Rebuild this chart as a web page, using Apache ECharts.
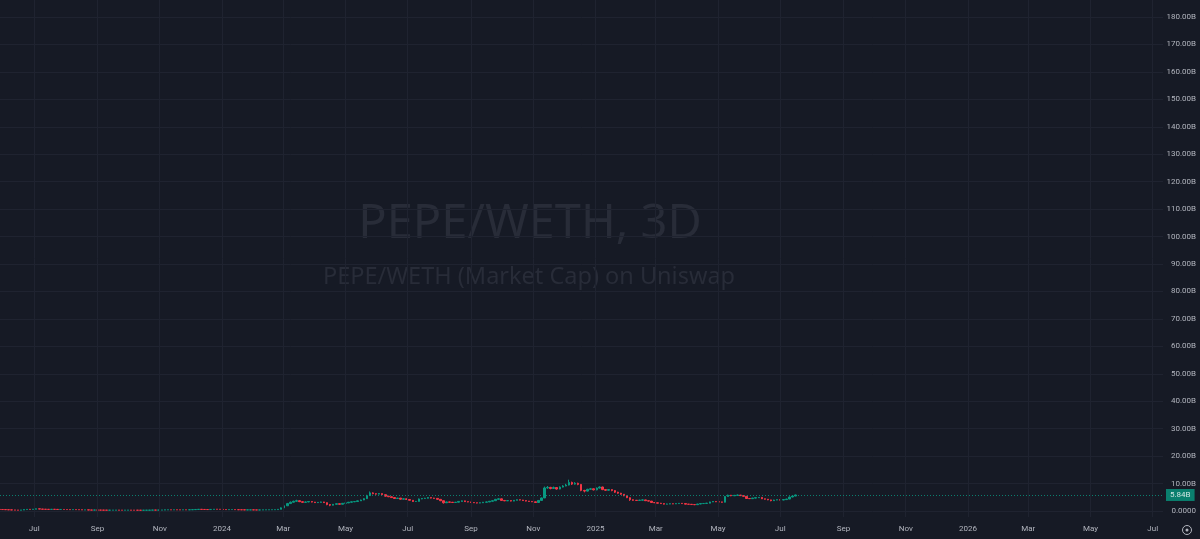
<!DOCTYPE html>
<html><head><meta charset="utf-8">
<script src="https://cdn.jsdelivr.net/npm/echarts@6/dist/echarts.min.js"></script>
<style>html,body{margin:0;padding:0;background:#161a25;}#c{width:1200px;height:539px;}</style>
</head><body><div id="c"></div>
<script>
// ---- data (market cap, billions) — 3-day candles ----
const firstDate = '2023-05-28';
const stepDays = 3;
const firstOpen = 0.58;
const closes = [
0.55,0.52,0.48,0.42,0.38,0.33,0.31,0.35,0.52,0.60,0.58,0.66,0.80,0.70,0.64,0.60,0.59,0.62,0.60,0.55,
0.57,0.54,0.52,0.50,0.52,0.50,0.47,0.40,0.41,0.36,0.34,0.36,0.33,0.32,0.31,0.29,0.30,0.31,0.32,0.30,
0.29,0.31,0.32,0.30,0.29,0.28,0.27,0.28,0.29,0.32,0.34,0.33,0.34,0.36,0.42,0.45,0.43,0.46,0.44,0.42,
0.45,0.44,0.46,0.50,0.56,0.62,0.57,0.55,0.52,0.58,0.64,0.62,0.60,0.55,0.50,0.52,0.53,0.48,0.46,0.44,
0.40,0.41,0.42,0.40,0.38,0.39,0.42,0.45,0.46,0.48,0.50,0.62,1.15,1.90,2.70,3.20,3.55,3.75,3.40,3.15,
3.30,3.45,3.25,3.05,3.15,3.30,3.05,2.35,2.10,2.45,2.65,2.45,2.80,2.95,3.20,3.35,3.45,3.70,4.00,4.50,
5.60,6.60,6.30,6.15,6.35,5.95,5.40,5.20,4.90,4.55,4.70,4.30,4.45,4.20,3.90,3.45,3.50,4.40,4.55,4.65,
4.90,4.70,4.60,4.25,3.75,3.00,3.30,3.20,3.10,3.20,3.50,3.70,3.40,3.30,3.10,3.00,2.90,3.00,3.20,3.30,
3.55,3.75,4.25,4.45,3.85,3.70,3.80,3.60,3.90,4.10,4.00,3.80,3.60,3.50,3.35,3.10,3.85,4.75,8.40,8.60,
8.20,8.55,8.00,8.70,9.10,9.45,10.40,9.80,10.10,9.70,7.50,7.25,7.90,8.10,7.70,8.35,8.75,7.80,7.55,7.80,
7.45,6.85,6.50,6.10,5.55,4.85,4.10,3.90,3.85,3.95,4.05,3.75,3.60,3.10,3.00,2.85,2.70,2.50,2.55,2.65,
2.60,2.70,2.80,2.70,2.50,2.45,2.35,2.30,2.55,2.70,2.75,2.85,3.30,3.45,3.35,3.30,3.20,5.30,5.75,5.55,
5.70,5.80,5.60,5.35,4.55,4.50,4.70,4.85,4.95,4.45,4.30,4.05,3.75,4.00,4.10,4.00,4.15,4.35,5.10,5.45,
5.84];
const highs = [
0.60,0.56,0.53,0.49,0.43,0.39,0.34,0.36,0.55,0.63,0.62,0.68,0.85,0.81,0.72,0.66,0.62,0.64,0.63,0.61,
0.58,0.58,0.55,0.53,0.53,0.53,0.51,0.48,0.42,0.42,0.37,0.37,0.37,0.34,0.33,0.32,0.31,0.32,0.33,0.33,
0.31,0.32,0.33,0.33,0.31,0.30,0.29,0.29,0.30,0.33,0.35,0.35,0.35,0.37,0.44,0.47,0.46,0.48,0.47,0.45,
0.46,0.46,0.47,0.52,0.58,0.65,0.63,0.58,0.56,0.60,0.66,0.66,0.63,0.61,0.56,0.54,0.55,0.54,0.49,0.47,
0.45,0.42,0.43,0.43,0.41,0.40,0.43,0.46,0.47,0.49,0.52,0.66,1.30,2.10,2.95,3.45,3.75,4.10,3.85,3.50,
3.45,3.60,3.50,3.30,3.25,3.40,3.35,3.10,2.45,2.55,2.75,2.70,2.90,3.05,3.30,3.45,3.55,3.80,4.15,4.65,
5.90,7.10,6.80,6.45,6.55,6.40,6.00,5.50,5.30,5.00,4.80,4.75,4.55,4.50,4.25,3.95,3.65,4.55,4.70,4.80,
5.05,4.95,4.80,4.65,4.30,3.80,3.40,3.40,3.25,3.30,3.60,3.80,3.75,3.45,3.35,3.15,3.05,3.10,3.30,3.40,
3.65,3.85,4.40,4.60,4.50,3.90,3.90,3.85,4.00,4.20,4.15,4.05,3.85,3.65,3.55,3.40,3.95,4.90,8.90,9.10,
8.80,8.90,8.70,8.95,9.40,9.90,11.40,10.70,10.50,10.30,9.80,7.70,8.10,8.40,8.20,8.50,9.00,8.85,7.95,8.00,
7.90,7.55,7.00,6.60,6.15,5.60,4.90,4.20,4.00,4.10,4.25,4.10,3.80,3.65,3.20,3.10,2.95,2.75,2.65,2.75,
2.70,2.80,2.90,2.85,2.75,2.55,2.50,2.40,2.60,2.80,2.85,2.95,3.40,3.55,3.50,3.40,3.35,5.45,5.95,5.85,
5.85,6.00,5.85,5.65,5.40,4.65,4.80,4.95,5.05,5.00,4.50,4.35,4.10,4.10,4.20,4.15,4.25,4.45,5.25,5.60,
5.95];
const lows = [
0.53,0.50,0.46,0.40,0.36,0.31,0.29,0.30,0.34,0.50,0.55,0.57,0.65,0.68,0.62,0.58,0.57,0.58,0.58,0.54,
0.54,0.53,0.51,0.49,0.49,0.49,0.46,0.38,0.39,0.33,0.32,0.33,0.32,0.31,0.30,0.28,0.28,0.29,0.30,0.29,
0.28,0.28,0.30,0.29,0.28,0.27,0.26,0.26,0.27,0.28,0.31,0.32,0.32,0.33,0.35,0.41,0.42,0.42,0.43,0.41,
0.41,0.43,0.43,0.45,0.49,0.55,0.55,0.53,0.50,0.51,0.57,0.60,0.58,0.53,0.48,0.49,0.51,0.47,0.45,0.43,
0.39,0.39,0.40,0.39,0.37,0.37,0.38,0.41,0.44,0.45,0.47,0.49,0.60,1.10,1.85,2.60,3.10,3.40,3.25,3.00,
3.05,3.20,3.15,2.95,2.95,3.05,2.95,2.10,1.75,2.05,2.40,2.35,2.40,2.75,2.90,3.10,3.25,3.40,3.65,3.95,
4.45,5.50,6.10,5.95,6.05,5.80,5.25,5.05,4.80,4.40,4.45,4.20,4.20,4.10,3.80,3.35,3.35,3.45,4.30,4.45,
4.55,4.60,4.50,4.15,3.60,2.70,2.95,3.10,3.00,3.05,3.15,3.45,3.30,3.20,3.00,2.90,2.80,2.85,2.95,3.15,
3.25,3.50,3.70,4.20,3.75,3.60,3.65,3.50,3.55,3.85,3.90,3.70,3.50,3.40,3.25,3.00,3.05,3.80,4.70,8.10,
7.90,8.05,7.80,7.90,8.60,9.00,9.30,9.50,9.60,9.40,7.20,6.80,7.10,7.80,7.50,7.60,8.20,7.60,7.30,7.40,
7.20,6.60,6.30,5.90,5.40,4.70,3.70,3.75,3.70,3.80,3.90,3.65,3.50,3.00,2.90,2.75,2.60,2.40,2.45,2.50,
2.50,2.55,2.65,2.60,2.45,2.40,2.25,2.15,2.25,2.50,2.65,2.70,2.80,3.25,3.25,3.20,3.10,3.15,5.20,5.40,
5.45,5.60,5.45,5.20,4.40,4.35,4.45,4.60,4.75,4.35,4.20,3.95,3.55,3.70,3.95,3.90,3.95,4.10,4.30,5.00,
5.40];
const lastPrice = 5.84;
const xTickDates = ['2023-07-01','2023-09-01','2023-11-01','2024-01-01','2024-03-01','2024-05-01','2024-07-01',
  '2024-09-01','2024-11-01','2025-01-01','2025-03-01','2025-05-01','2025-07-01','2025-09-01','2025-11-01',
  '2026-01-01','2026-03-01','2026-05-01','2026-07-01'];
const xTickLabels = ['Jul','Sep','Nov','2024','Mar','May','Jul','Sep','Nov','2025','Mar','May','Jul','Sep','Nov',
  '2026','Mar','May','Jul'];
const yMin = 0, yMax = 180, yStep = 10;
const titleText = 'PEPE/WETH, 3D';
const subtitleText = 'PEPE/WETH (Market Cap) on Uniswap';

// ---- build ----
const DAY = 864e5;
const t0 = Date.parse(firstDate);
const candles = closes.map((c, i) => {
  const o = i === 0 ? firstOpen : closes[i - 1];
  return [t0 + i * stepDays * DAY, o, c, lows[i], highs[i]];
});
const xMin = Date.parse('2024-01-01') - 217.5 * DAY;
const xMax = xMin + 1139.6 * DAY;
const tickTs = xTickDates.map(d => Date.parse(d));
const labelMap = {};
tickTs.forEach((t, i) => labelMap[t] = xTickLabels[i]);

const UP = '#089981', DOWN = '#f23645';
const GRID = '#1f2330';
const TXT = '#b2b5be';
const FONT = 'Roboto, "Noto Sans", sans-serif';

const chart = echarts.init(document.getElementById('c'), null, {renderer: 'canvas'});
chart.setOption({
  backgroundColor: '#161a25',
  animation: false,
  graphic: [
    {type: 'text', silent: true, z: 0,
      style: {text: titleText, x: 530, y: 225, align: 'center', verticalAlign: 'middle',
        fill: '#282c38', font: '47px "Noto Sans", sans-serif'}},
    {type: 'text', silent: true, z: 0,
      style: {text: subtitleText, x: 529, y: 277, align: 'center', verticalAlign: 'middle',
        fill: '#282c38', font: '23.5px "Noto Sans", sans-serif'}},
    {type: 'circle', silent: true, shape: {cx: 1187, cy: 530, r: 4.5},
      style: {fill: 'none', stroke: TXT, lineWidth: 1}},
    {type: 'circle', silent: true, shape: {cx: 1187, cy: 530, r: 1.5},
      style: {fill: TXT}}
  ],
  grid: [
    {left: 0, right: 37, top: 0, bottom: 22},
    {left: 0, right: 37, top: 17, bottom: 28}
  ],
  xAxis: [
    {type: 'value', gridIndex: 0, min: xMin, max: xMax,
      axisLine: {show: false}, axisTick: {show: false, customValues: tickTs}, splitLine: {show: false},
      axisLabel: {customValues: tickTs, color: TXT, fontSize: 8, margin: 8, fontFamily: FONT,
        formatter: v => labelMap[v] || ''}},
    {type: 'value', gridIndex: 1, min: xMin, max: xMax, show: false, splitLine: {show: false}}
  ],
  yAxis: [
    {type: 'value', gridIndex: 0, min: 0, max: 1, show: false, splitLine: {show: false}},
    {type: 'value', gridIndex: 1, position: 'right', min: yMin, max: yMax, interval: yStep,
      axisLine: {show: false}, axisTick: {show: false},
      splitLine: {show: true, lineStyle: {color: GRID, width: 1}},
      axisLabel: {color: TXT, fontSize: 8, align: 'right', margin: 33, fontFamily: FONT,
        formatter: v => v === 0 ? '0.0000' : v.toFixed(2) + 'B'}}
  ],
  series: [
    {type: 'line', xAxisIndex: 0, yAxisIndex: 0, data: [], silent: true, symbol: 'none',
      markLine: {silent: true, symbol: 'none', label: {show: false},
        lineStyle: {color: GRID, width: 1, type: 'solid'},
        data: tickTs.map(t => ({xAxis: t}))}},
    {type: 'candlestick', xAxisIndex: 1, yAxisIndex: 1, barWidth: 2,
      encode: {x: 0, y: [1, 2, 3, 4]},
      itemStyle: {color: UP, color0: DOWN, borderColor: UP, borderColor0: DOWN, borderWidth: 1},
      data: candles,
      markLine: {silent: true, symbol: 'none',
        lineStyle: {color: UP, width: 1, type: [1, 2], opacity: 0.8},
        label: {show: true, position: 'end', distance: 3, formatter: lastPrice.toFixed(2) + 'B',
          backgroundColor: UP, color: '#ffffff', fontSize: 8, fontFamily: FONT, padding: [2, 4, 2, 4]},
        data: [{yAxis: lastPrice}]}}
  ]
});
</script>
</body></html>
